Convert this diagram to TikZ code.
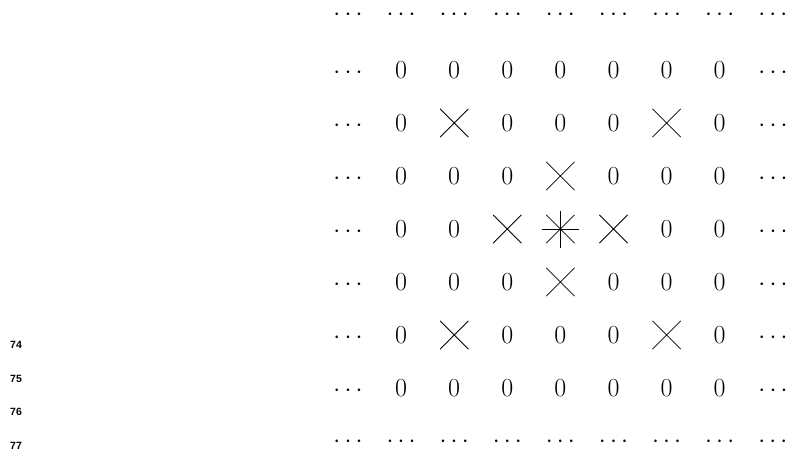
\documentclass[tikz,border=0pt]{standalone}
\usepackage{fontspec}
\newfontfamily\numfont{Liberation Sans}
\usetikzlibrary{shapes.misc}
\tikzset{
  entry/.style={anchor=base,inner sep=0pt,font=\fontsize{26}{30}\selectfont},
  xmark/.style={cross out,draw,minimum size=27.5pt,inner sep=0pt,line width=0.8pt},
  linenum/.style={anchor=base west,inner sep=0pt,font=\numfont\bfseries\fontsize{10.5}{12}\selectfont}
}
\begin{document}
\begin{tikzpicture}[x=1pt,y=-1pt]
\useasboundingbox (0,0) rectangle (788,451);
% line numbers in the margin
\foreach \n [count=\i from 0] in {74,75,76,77}
  \node[linenum] (ln\n) at (10,{348.8+33.4*\i}) {\n};
% first and last row: dots only
\foreach \c in {0,...,8} {
  \node[entry] (top\c) at ({348+53.1*\c},20.5) {$\cdots$};
  \node[entry] (bot\c) at ({348+53.1*\c},447) {$\cdots$};
}
% inner rows: 0 = zero, x = cross, s = star
\foreach \r/\cells in {1/{0,0,0,0,0,0,0},2/{0,x,0,0,0,x,0},3/{0,0,0,x,0,0,0},
    4/{0,0,x,s,x,0,0},5/{0,0,0,x,0,0,0},6/{0,x,0,0,0,x,0},7/{0,0,0,0,0,0,0}} {
  \node[entry] (l\r) at (348,{78.5+53*(\r-1)}) {$\cdots$};
  \node[entry] (r\r) at (773,{78.5+53*(\r-1)}) {$\cdots$};
  \foreach \v [count=\c] in \cells {
    \if\v0 \node[entry] (m\r-\c) at ({348+53.1*\c},{78.5+53*(\r-1)}) {0}; \fi
    \if\v x \node[xmark] (m\r-\c) at ({348+53.1*\c},{70+53*(\r-1)}) {}; \fi
    \if\v s \node[xmark] (m\r-\c) at ({348+53.1*\c},{70+53*(\r-1)}) {}; \fi
  }
}
% the star gets a plus on top of its cross
\draw[line width=0.8pt] ([xshift=-18.5pt]m4-4.center) -- ([xshift=18.5pt]m4-4.center);
\draw[line width=0.8pt] ([yshift=-18.5pt]m4-4.center) -- ([yshift=18.5pt]m4-4.center);
\end{tikzpicture}
\end{document}
